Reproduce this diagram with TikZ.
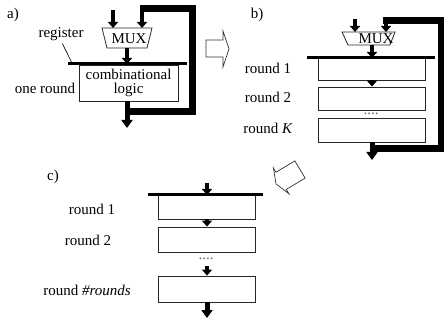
\documentclass[tikz,border=0pt]{standalone}
\usepackage{fontspec}
\setmainfont{Liberation Serif}
\usetikzlibrary{arrows.meta}
\begin{document}
\begin{tikzpicture}[x=1pt,y=-1pt,
  font=\fontsize{15}{14}\selectfont,
  blk/.style={draw=black!85, line width=0.8pt, inner sep=0pt},
  lbl/.style={inner sep=0pt},
  small/.style={line width=4.5pt, -{Triangle[width=10pt,length=6pt]}},
  bigarr/.style={line width=5pt, -{Triangle[width=11pt,length=8pt]}},
  fbloop/.style={line width=7pt, line join=miter},
  reg/.style={line width=3pt},
  hollow/.style={draw=black!80, line width=0.7pt, fill=white},
  muxshape/.style={draw=black!85, line width=0.8pt, fill=white},
  dots/.style={inner sep=0pt, text=black!60}
]
\useasboundingbox (0,0) rectangle (444,320);

% ---------- a) ----------
\node[lbl] (la) at (13,15) {a)};
\coordinate (ina) at (113,10);
\coordinate (ina_e) at (113,28);
\coordinate (fba_e) at (142,28);
\coordinate (fba_s) at (142,9);
\coordinate (muxa_b) at (127,48);
\coordinate (rega_c) at (127,64);
\coordinate (outa) at (127,128);
\draw[muxshape] (102,28) -- (152,28) -- (147,48) -- (107,48) -- cycle;
\node[lbl] (muxa) at (129,38.5) {MUX};
\node[blk, minimum width=99pt, minimum height=36pt, align=center] (ca) at (128.5,83) {combinational\\logic};
\draw[small] (ina) -- (ina_e);
\draw[small] (muxa_b) -- (rega_c);
\draw[bigarr] (ca.south -| outa) -- (outa);
\draw[fbloop] (124.5,112) -- (192,112) -- (192,9) -- (139.5,9);
\draw[small] (fba_s) -- (fba_e);
\draw[reg] (68,64) coordinate (rega_l) -- (187,64) coordinate (rega_r);
\node[lbl] (rega_t) at (61,34) {register};
\coordinate (rega_ptr) at (72,63);
\draw[line width=0.6pt, shorten <=3pt] (rega_t.south) -- (rega_ptr);
\node[lbl] (onera) at (45,88) {one round};

% hollow arrow a -> b
\draw[hollow] (206,40) -- (223,40) -- (223,31) -- (229,49) -- (223,67) -- (223,57) -- (206,57) -- cycle;

% ---------- b) ----------
\node[lbl] (lb) at (257,15) {b)};
\coordinate (inb) at (355,19);
\coordinate (inb_e) at (355,32);
\coordinate (fbb_s) at (386,21);
\coordinate (fbb_e) at (386,32);
\coordinate (muxb_b) at (372,45);
\coordinate (regb_c) at (372,58);
\coordinate (outb) at (372,160);
\draw[muxshape] (342,32) -- (395,32) -- (390,45) -- (348,45) -- cycle;
\node[lbl] (muxb) at (376,39) {MUX};
\node[blk, minimum width=107pt, minimum height=22pt] (b1) at (371.5,69) {};
\node[blk, minimum width=107pt, minimum height=23pt] (b2) at (371.5,98.5) {};
\node[blk, minimum width=107pt, minimum height=24pt] (bk) at (371.5,130) {};
\node[dots] (bd) at (371,114) {....};
\draw[small] (inb) -- (inb_e);
\draw[small] (muxb_b) -- (regb_c);
\draw[small] (b1.south -| regb_c) -- (b2.north -| regb_c);
\draw[bigarr] (bk.south -| outb) -- (outb);
\draw[fbloop] (369.5,149) -- (441,149) -- (441,21) -- (382.5,21);
\draw[small] (fbb_s) -- (fbb_e);
\draw[reg] (307,58) coordinate (regb_l) -- (435,58) coordinate (regb_r);
\node[lbl] (rb1) at (268,68) {round 1};
\node[lbl] (rb2) at (268,97) {round 2};
\node[lbl] (rbk) at (268,128) {round \textit{K}};

% hollow arrow b -> c
\begin{scope}[shift={(300,169.5)}, rotate=211]
\draw[hollow] (0,-10) -- (22,-10) -- (22,-15) -- (28,0) -- (22,15) -- (22,10) -- (0,10) -- cycle;
\end{scope}

% ---------- c) ----------
\node[lbl] (lcc) at (53,177) {c)};
\coordinate (inc) at (207,183);
\coordinate (regc_c) at (207,195);
\coordinate (outc) at (207,318);
\node[blk, minimum width=97pt, minimum height=24pt] (c1) at (206.5,207) {};
\node[blk, minimum width=97pt, minimum height=25pt] (c2) at (206.5,239.5) {};
\node[blk, minimum width=97pt, minimum height=26pt] (cn) at (206.5,289) {};
\node[dots] (cd) at (206,259) {....};
\coordinate (cd_b) at (207,266);
\draw[small] (inc) -- (regc_c);
\draw[small] (c1.south -| regc_c) -- (c2.north -| regc_c);
\draw[small] (cd_b) -- (cn.north -| cd_b);
\draw[bigarr] (cn.south -| outc) -- (outc);
\draw[reg] (148,195) coordinate (regc_l) -- (263,195) coordinate (regc_r);
\node[lbl] (rc1) at (92,209) {round 1};
\node[lbl] (rc2) at (88,240) {round 2};
\node[lbl] (rcn) at (87,290) {round \textit{\#rounds}};
\end{tikzpicture}
\end{document}
